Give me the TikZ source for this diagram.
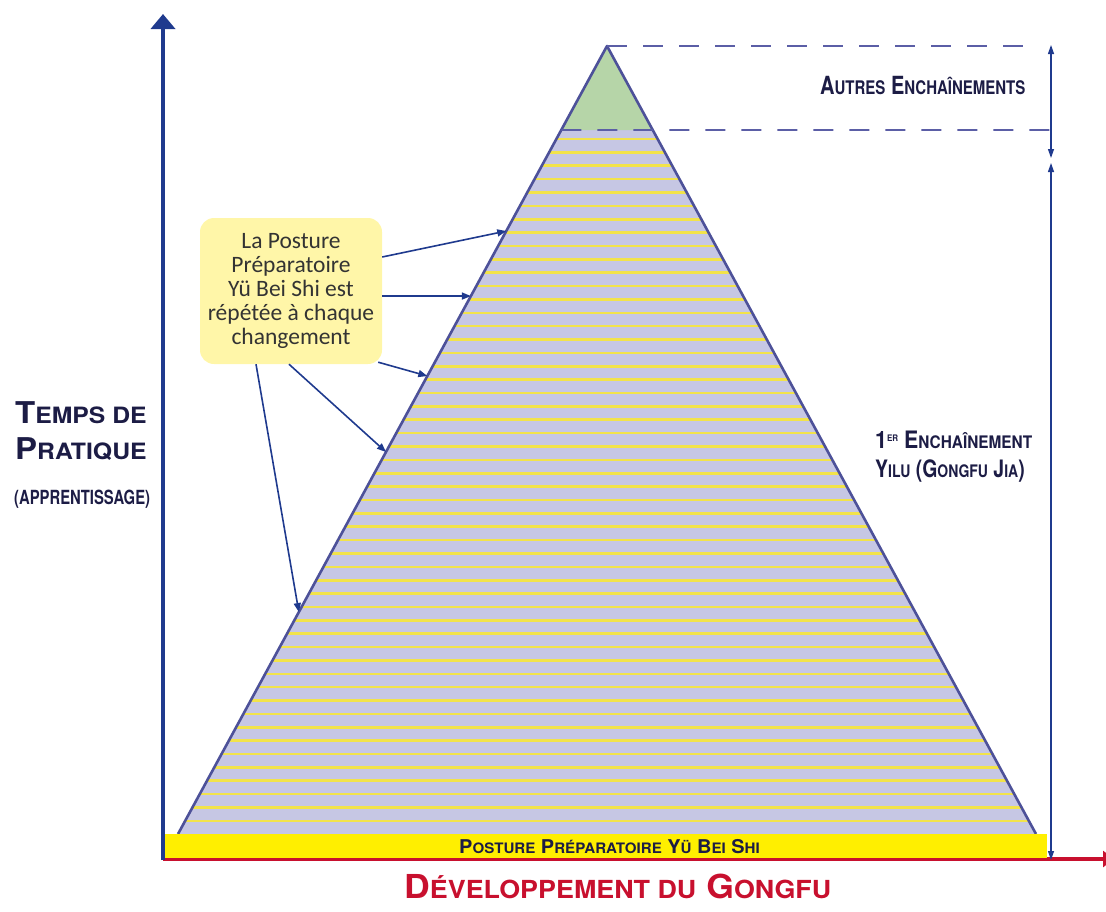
\documentclass[tikz,border=0pt]{standalone}
\usepackage{fontspec}
\usepackage{relsize}
\setmainfont{TeX Gyre Heros}
\newfontfamily\notefont{Carlito}
\usetikzlibrary{arrows.meta,calc}
\definecolor{axisblue}{HTML}{1F3A8E}
\definecolor{edgeblue}{HTML}{4D5199}
\definecolor{dashblue}{HTML}{5B5EA6}
\definecolor{lavender}{HTML}{C6C7E4}
\definecolor{stripe}{HTML}{F2E34A}
\definecolor{topgreen}{HTML}{B6D5A8}
\definecolor{baryellow}{HTML}{FFEF00}
\definecolor{axisred}{HTML}{C8102E}
\definecolor{ink}{HTML}{1C1C45}
\definecolor{notefill}{HTML}{FFF6A8}
\newcommand{\lc}[1]{{\relscale{0.75}#1}}
\newcommand{\narrow}[2]{\scalebox{#1}[1]{#2}}
\tikzset{
	title text/.style={font=\bfseries, text=ink, inner sep=0pt, anchor=base west},
	pointer/.style={-{Triangle[length=9pt,width=7pt]}, axisblue, line width=1.6pt},
	span/.style={{Triangle[length=9pt,width=6pt]}-{Triangle[length=9pt,width=6pt]}, axisblue, line width=1.2pt},
	level/.style={dash pattern=on 20pt off 16pt, dashblue, line width=1.8pt}
}
\begin{document}
\begin{tikzpicture}[x=1pt,y=-1pt]
		\def\stripestep{13.37}
		\def\greencut{0.1066}
		\useasboundingbox (0,0) rectangle (1106,911);
		% pyramid
			\coordinate (apex) at (607,46);
			\coordinate (bl) at (178,834);
			\coordinate (br) at (1036,834);
			\coordinate (gl) at ($(apex)!\greencut!(bl)$);
			\coordinate (gr) at ($(apex)!\greencut!(br)$);
			\fill [lavender] (gl) -- (gr) -- (br) -- (bl) -- cycle;
			\begin{scope}
				\clip (gl) -- (gr) -- (br) -- (bl) -- cycle;
				\foreach \k in {0,...,51}
					\draw [stripe, line width=2.6pt] (150,139+\k*\stripestep) -- (1060,139+\k*\stripestep);
			\end{scope}
			\fill [topgreen] (apex) -- (gr) -- (gl) -- cycle;
			\draw [edgeblue, line width=2.6pt, line join=round] (bl) -- (apex) -- (br);
		% levels
			\coordinate (toplevel) at (1036,46);
			\coordinate (cutlevel) at (1051,130);
			\draw [level] (apex) -- (toplevel);
			\draw [level] (gl) -- (cutlevel);
		% axes
			\coordinate (origin) at (163,860);
			\coordinate (xend) at (1114,859);
			\coordinate (yend) at (163,14);
			\draw [axisred, line width=3.6pt, -{Triangle[length=11pt,width=16pt]}] (origin |- xend) -- (xend);
			\node [fill=baryellow, minimum width=882pt, minimum height=24pt, inner sep=0pt] (bar) at (606,846) {};
			\node [title text, font=\bfseries\fontsize{19}{19}\selectfont] (barlabel) at (459,853) {\narrow{1.05}{P\lc{OSTURE} P\lc{RÉPARATOIRE} Y\lc{Ü} B\lc{EI} S\lc{HI}}};
			\draw [axisblue, line width=4pt, -{Triangle[length=15pt,width=24pt]}] (origin) -- (yend);
		% spans
			\coordinate (s1top) at (1051,45);
			\coordinate (s1bot) at (1051,158);
			\coordinate (s2top) at (1051,163);
			\coordinate (s2bot) at (1051,860);
			\draw [span] (s1top) -- (s1bot);
			\draw [span] (s2top) -- (s2bot);
		% labels
			\node [title text, font=\bfseries\fontsize{25}{25}\selectfont] (others) at (820,94) {\narrow{0.8}{A\lc{UTRES} E\lc{NCHAÎNEMENTS}}};
			\node [title text, font=\bfseries\fontsize{24}{24}\selectfont] (first) at (875,448) {\narrow{0.89}{1\raisebox{7pt}{\fontsize{9}{9}\selectfont ER} E\lc{NCHAÎNEMENT}}};
			\node [title text, font=\bfseries\fontsize{24}{24}\selectfont] (yilu) at (875,477) {\narrow{0.81}{Y\lc{ILU} (G\lc{ONGFU} J\lc{IA})}};
			\node [title text, font=\bfseries\fontsize{30}{30}\selectfont] (temps) at (15,423) {\narrow{1.1}{T\lc{EMPS DE}}};
			\node [title text, font=\bfseries\fontsize{30}{30}\selectfont] (pratique) at (15,459) {\narrow{1.1}{P\lc{RATIQUE}}};
			\node [title text, font=\bfseries\fontsize{19.5}{19.5}\selectfont] (apprent) at (14,504) {\narrow{0.76}{(APPRENTISSAGE)}};
			\node [title text, text=axisred, font=\bfseries\fontsize{33}{33}\selectfont] (gongfu) at (404,898) {\narrow{1.08}{D\lc{ÉVELOPPEMENT DU} G\lc{ONGFU}}};
		% note
			\node [fill=notefill, rounded corners=14pt, minimum width=182pt, minimum height=146pt, align=center, text=black!80, font=\notefont\fontsize{23.5}{24}\selectfont] (note) at (291,291) {La Posture\\Préparatoire\\Yü Bei Shi est\\répétée à chaque\\changement};
			\draw [pointer] ([yshift=34pt]note.east) -- ($(apex)!0.2348!(bl)$);
			\draw [pointer] ([yshift=-5pt]note.east) -- ($(apex)!0.3173!(bl)$);
			\draw [pointer] ([xshift=-4pt,yshift=2pt]note.south east) -- ($(apex)!0.4188!(bl)$);
			\draw [pointer] ([xshift=-2pt]note.south) -- ($(apex)!0.5152!(bl)$);
			\draw [pointer] ([xshift=-35pt]note.south) -- ($(apex)!0.7183!(bl)$);
	\end{tikzpicture}
\end{document}
